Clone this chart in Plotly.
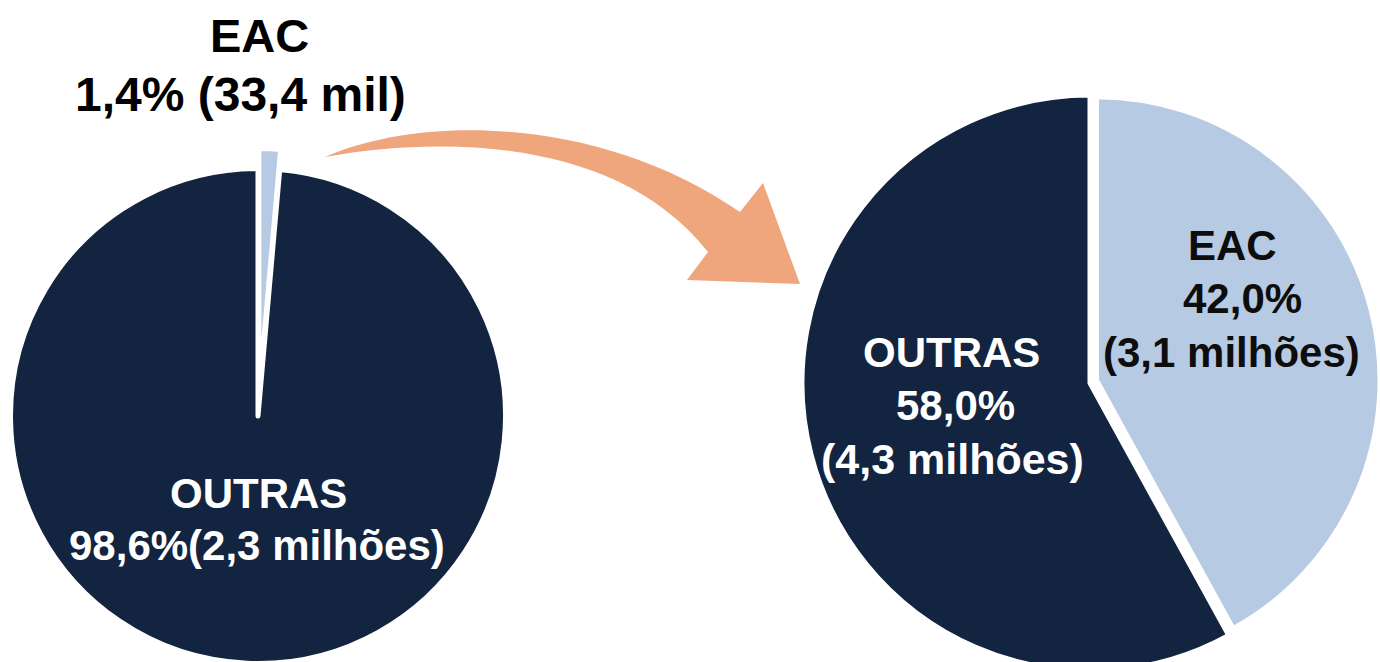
import plotly.graph_objects as go

# ---------------- data ----------------
categories = ["EAC", "OUTRAS"]
left_share = [1.4, 98.6]                     # % of population (left pie)
left_count = ["33,4 mil", "2,3 milhões"]
right_share = [42.0, 58.0]                   # % (right pie)
right_count = ["3,1 milhões", "4,3 milhões"]

# ---------------- style ----------------
W, H = 1380, 690   # a little taller than the window so the right pie can run off the bottom
OFF = 0
NAVY = "#12243f"
LIGHT = "#b7cae3"
ORANGE = "#f0a67d"
CLEAR = "rgba(0,0,0,0)"
FONT = "Liberation Sans, Arial, Helvetica, sans-serif"
STROKE = 5


def fmt(v):
    return f"{v:.1f}".replace(".", ",") + "%"


def fx(x):
    return (x - OFF) / W


def fy(y):
    return 1 - (y - OFF) / H


def dom(cx, cy, r):
    c = lambda v: min(1.0, max(0.0, round(v, 5)))
    return dict(x=[c(fx(cx - r)), c(fx(cx + r))], y=[c(fy(cy + r)), c(fy(cy - r))])


def pie(values, colors, widths, domain, name):
    return go.Pie(
        labels=categories, values=values, sort=False, direction="clockwise",
        rotation=0, textinfo="none", showlegend=False, name=name,
        marker=dict(colors=colors, line=dict(color="white", width=widths)),
        domain=domain, hovertemplate="%{label}: %{percent}<extra></extra>",
    )


fig = go.Figure()
# left pie: light sliver (exploded) + dark remainder
fig.add_trace(pie(left_share, [LIGHT, CLEAR], [STROKE, 0], dom(258.9, 396, 247.5), "2019"))
fig.add_trace(pie(left_share, [CLEAR, NAVY], [0, STROKE], dom(258, 416, 247.5), "2019"))
# right pie
fig.add_trace(pie(right_share, [CLEAR, NAVY], [0, STROKE], dom(1090, 383, 288), "2022"))
fig.add_trace(pie(right_share, [LIGHT, CLEAR], [STROKE, 0], dom(1101, 380.2, 288), "2022"))


# ---------------- arrow ----------------
def P(x, y):
    return f"{fx(x):.5f},{fy(y):.5f}"


arrow = (
    f"M {P(325,157)} C {P(420,115)} {P(600,115)} {P(740,212)} "
    f"L {P(763,183)} L {P(800,284)} L {P(687,280)} L {P(708,252)} "
    f"C {P(620,140)} {P(450,135)} {P(325,157)} Z"
)
fig.add_shape(type="path", path=arrow, xref="paper", yref="paper",
              fillcolor=ORANGE, line=dict(width=0), layer="above")


# ---------------- labels ----------------
def label(text, x, y, size, color, family=FONT):
    fig.add_annotation(text=f"<b>{text}</b>", x=fx(x), y=fy(y), xref="paper", yref="paper",
                       xanchor="center", yanchor="middle", showarrow=False,
                       font=dict(family=family, size=size, color=color))


label(categories[0], 259, 35, 47, "#000000")
label(f"{fmt(left_share[0])} ({left_count[0]})", 240, 95, 48, "#000000")
label(categories[1], 258, 493, 42, "white")
label(f"{fmt(left_share[1])}({left_count[1]})", 257, 545, 42, "white")

label(categories[1], 951, 352, 42, "white")
label(fmt(right_share[1]), 955, 405, 42, "white")
label(f"({right_count[1]})", 952, 459, 43, "white")

label(categories[0], 1232, 245, 42, "#0d0d0d")
label(fmt(right_share[0]), 1242, 298, 42, "#0d0d0d")
label(f"({right_count[0]})", 1231, 352, 42, "#0d0d0d")

fig.update_layout(
    width=W, height=H, margin=dict(l=0, r=0, t=0, b=0),
    paper_bgcolor="white", plot_bgcolor="white",
)

fig.write_html(
    "out.html",
    config={"displayModeBar": False},
    post_script="document.body.style.margin='0';"
                "document.documentElement.style.overflow='hidden';"
                "document.body.style.overflow='hidden';",
)
